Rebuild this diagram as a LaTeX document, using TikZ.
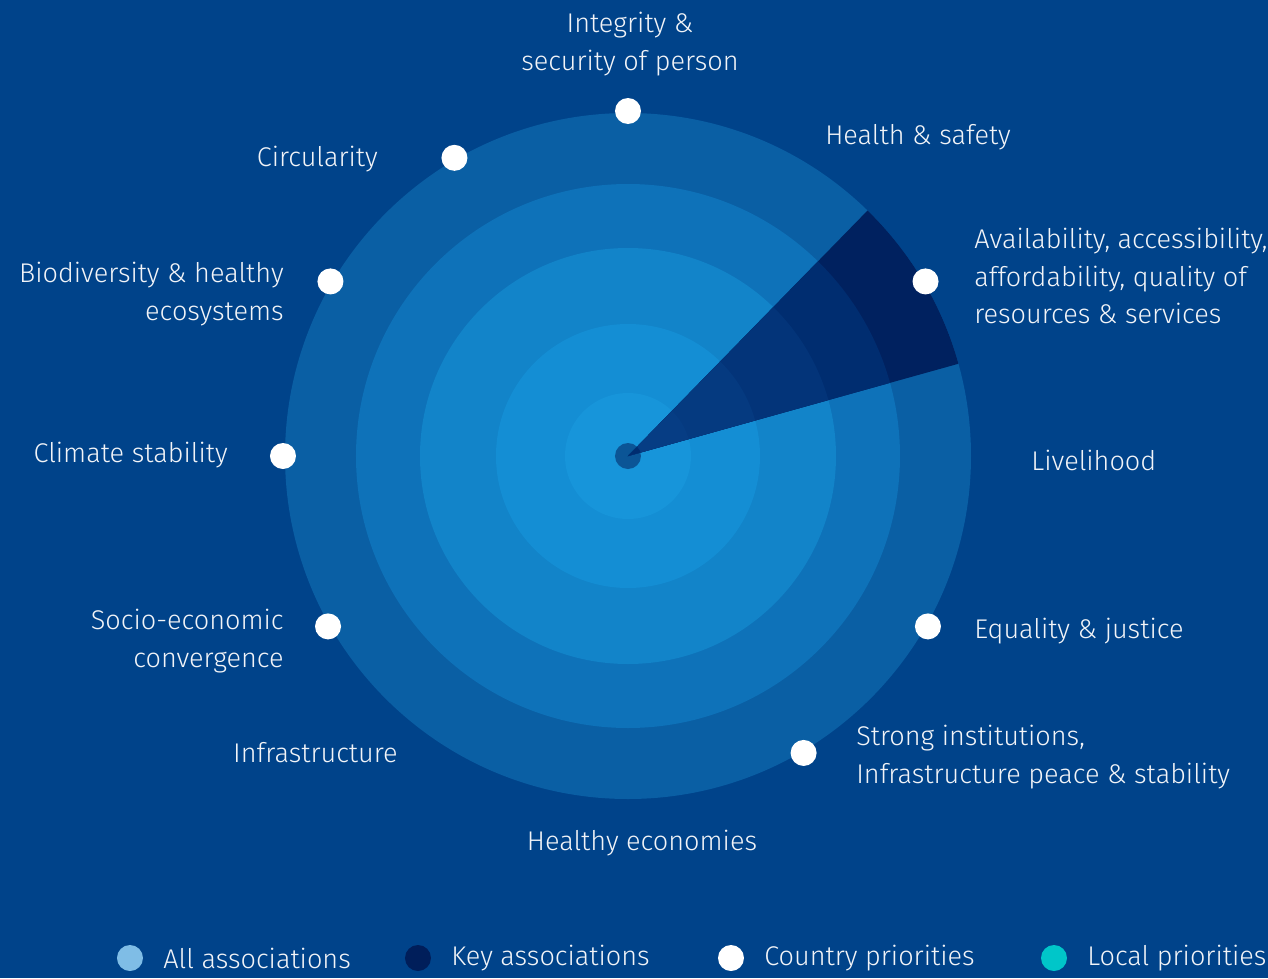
\documentclass[tikz,border=0pt]{standalone}
\usepackage{fontspec}
\setmainfont{Fira Sans Light}
\usepackage{tikz}
\definecolor{bgblue}{HTML}{00438A}
\definecolor{ringA}{HTML}{0A5FA4}
\definecolor{ringB}{HTML}{0E72B9}
\definecolor{ringC}{HTML}{1284C9}
\definecolor{ringD}{HTML}{148ED4}
\definecolor{ringE}{HTML}{1795DA}
\definecolor{hubblue}{HTML}{0B5596}
\definecolor{keyA}{HTML}{00215F}
\definecolor{keyB}{HTML}{002D70}
\definecolor{keyC}{HTML}{033479}
\definecolor{keyD}{HTML}{053A80}
\definecolor{keyE}{HTML}{063D84}
\definecolor{allblue}{HTML}{7FBDE6}
\definecolor{keynavy}{HTML}{001E5A}
\definecolor{localteal}{HTML}{00C6C9}
\definecolor{txt}{HTML}{F2F4F8}
\tikzset{
  lbl/.style={text=txt,inner sep=0pt,font=\fontsize{15.4}{21.2}\selectfont},
  dot/.style={circle,fill=white,inner sep=0pt,minimum size=26*0.02cm},
  legdot/.style={circle,inner sep=0pt,minimum size=26*0.02cm}
}

\begin{document}
\begin{tikzpicture}[x=0.02cm,y=0.02cm]
  \fill[bgblue] (-628,-522) rectangle (640,456);
  \useasboundingbox (-628,-522) rectangle (640,456);
  % rings
  \fill[ringA] (0,0) circle (343);
  \fill[ringB] (0,0) circle (272);
  \fill[ringC] (0,0) circle (208);
  \fill[ringD] (0,0) circle (132);
  \fill[ringE] (0,0) circle (63);
  \fill[hubblue] (0,0) circle (13);
  % key sector
  \begin{scope}
    \clip (0,0) -- (15.6:400) -- (45.7:400) -- cycle;
    \fill[keyA] (0,0) circle (343);
    \fill[keyB] (0,0) circle (272);
    \fill[keyC] (0,0) circle (208);
    \fill[keyD] (0,0) circle (132);
    \fill[keyE] (0,0) circle (63);
    \fill[keyB] (0,0) circle (13);
  \end{scope}
  % country priorities
  \foreach \a/\n in {90/integrity,120.2/circularity,149.6/biodiversity,180/climate,209.6/socio,300.6/strong,330.4/equality,30.4/availability}
    \node[dot] (dot-\n) at (\a:345) {};
  % labels
  \node[lbl,align=center] (integrity) at (2,412) {Integrity \&\\security of person};
  \node[lbl,anchor=west] (health) at (197,319) {Health \& safety};
  \node[lbl,anchor=west,align=left] (availability) at (346,180)
    {Availability, accessibility,\\affordability, quality of\\resources \& services};
  \node[lbl,anchor=west] (livelihood) at (403,-4) {Livelihood};
  \node[lbl,anchor=west] (equality) at (346,-175) {Equality \& justice};
  \node[lbl,anchor=west,align=left] (strong) at (228,-301)
    {Strong institutions,\\Infrastructure peace \& stability};
  \node[lbl] (economies) at (14,-387) {Healthy economies};
  \node[lbl,anchor=east] (infrastructure) at (-230,-297) {Infrastructure};
  \node[lbl,anchor=east,align=right] (socio) at (-344,-185) {Socio-economic\\convergence};
  \node[lbl,anchor=east] (climate) at (-400,1) {Climate stability};
  \node[lbl,anchor=east,align=right] (biodiversity) at (-344,162) {Biodiversity \& healthy\\ecosystems};
  \node[lbl,anchor=east] (circularity) at (-250,297) {Circularity};
  % legend
  \node[legdot,fill=allblue] (leg-all) at (-498,-502) {};
  \node[lbl,anchor=west] at (-465,-502) {All associations};
  \node[legdot,fill=keynavy] (leg-key) at (-210,-502) {};
  \node[lbl,anchor=west] at (-177,-502) {Key associations};
  \node[legdot,fill=white] (leg-country) at (103,-502) {};
  \node[lbl,anchor=west] at (136,-502) {Country priorities};
  \node[legdot,fill=localteal] (leg-local) at (426,-502) {};
  \node[lbl,anchor=west] at (459,-502) {Local priorities};
\end{tikzpicture}
\end{document}
